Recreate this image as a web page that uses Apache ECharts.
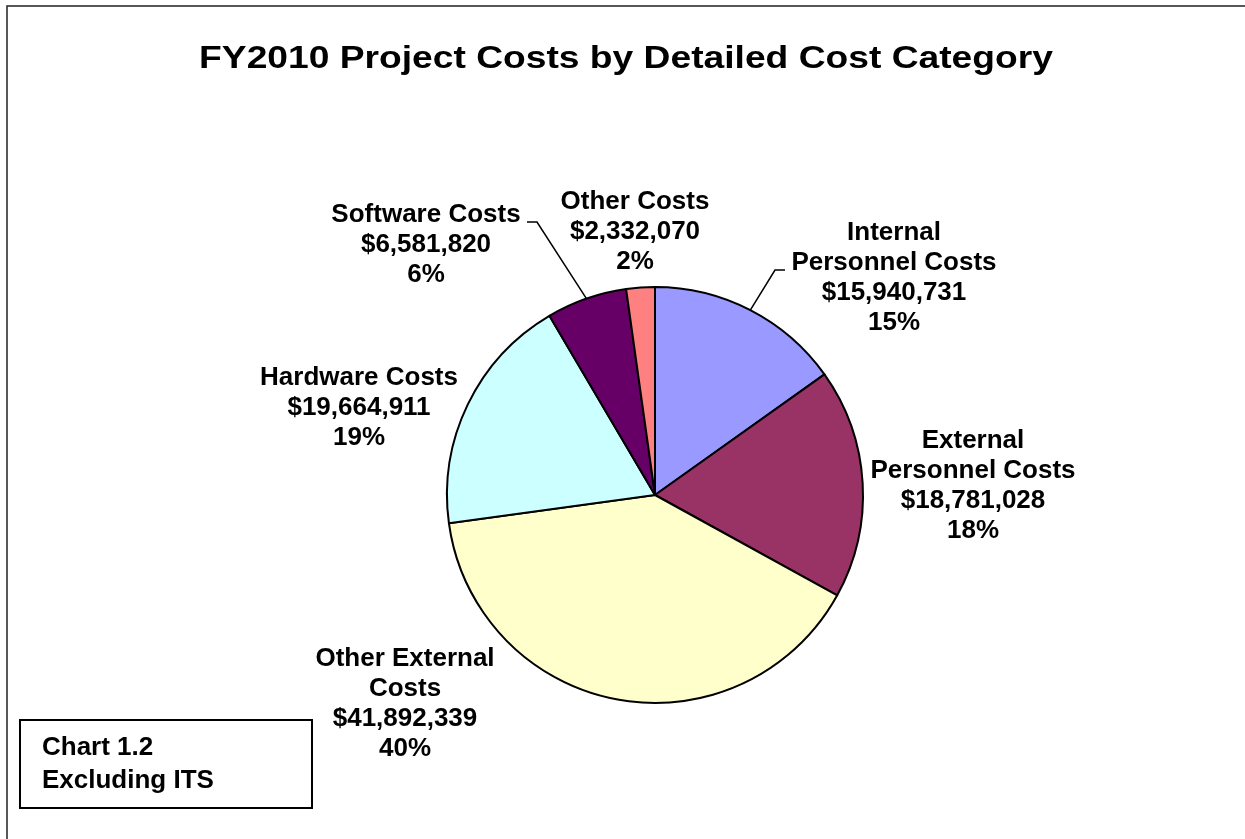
<!DOCTYPE html>
<html>
<head>
<meta charset="utf-8">
<script src="https://cdn.jsdelivr.net/npm/echarts@6/dist/echarts.min.js"></script>
<style>
  html, body { margin: 0; padding: 0; background: #fff; }
  #chart { width: 1245px; height: 839px; }
</style>
</head>
<body>
<div id="chart"></div>
<script>
// slice names (line breaks as in the original labels)
const categories = [
  'Internal\nPersonnel Costs',
  'External\nPersonnel Costs',
  'Other External\nCosts',
  'Hardware Costs',
  'Software Costs',
  'Other Costs'
];
const costs = [15940731, 18781028, 41892339, 19664911, 6581820, 2332070];
const colors = ['#9999FF', '#993366', '#FFFFCC', '#CCFFFF', '#660066', '#FF8080'];

// where each data label block sits (centre of the block)
const labelPos = [
  { x: 894, y: 278 },
  { x: 973, y: 486 },
  { x: 405, y: 704 },
  { x: 359, y: 408 },
  { x: 426, y: 245 },
  { x: 635, y: 232 }
];
// leader lines: elbow and end offsets from the label centre (null = no line)
const leader = [
  { elbow: [-119, -8], end: [-109, -8] },
  null,
  null,
  null,
  { elbow: [111, -23], end: [101, -23] },
  null
];

const chart = echarts.init(document.getElementById('chart'));

const fontFamily = '"Liberation Sans", Arial, sans-serif';

const option = {
  backgroundColor: '#fff',
  animation: false,
  graphic: [
    {
      type: 'rect',
      shape: { x: 7, y: 6, width: 1260, height: 860 },
      style: { fill: null, stroke: '#222', lineWidth: 1.5 },
      silent: true
    },
    {
      // chart title, stretched horizontally like the original
      type: 'text',
      x: 626,
      y: 44,
      scaleX: 1.2,
      style: {
        text: 'FY2010 Project Costs by Detailed Cost Category',
        font: 'bold 31px ' + fontFamily,
        align: 'center',
        verticalAlign: 'top',
        fill: '#000'
      },
      silent: true
    },
    {
      type: 'rect',
      shape: { x: 20, y: 720, width: 292, height: 88 },
      style: { fill: '#fff', stroke: '#000', lineWidth: 2 },
      silent: true
    },
    {
      type: 'text',
      x: 42,
      y: 731,
      style: {
        text: 'Chart 1.2\nExcluding ITS',
        font: 'bold 26px ' + fontFamily,
        lineHeight: 33,
        verticalAlign: 'top',
        fill: '#000'
      },
      silent: true
    }
  ],
  series: [{
    type: 'pie',
    center: [655, 495],
    radius: 208,
    startAngle: 90,
    clockwise: true,
    percentPrecision: 0,
    itemStyle: { borderColor: '#000', borderWidth: 2 },
    label: {
      show: true,
      position: 'outside',
      fontFamily: fontFamily,
      fontSize: 26,
      fontWeight: 'bold',
      lineHeight: 30,
      color: '#000',
      align: 'center',
      formatter: function (p) {
        return p.name + '\n$' + p.value.toLocaleString('en-US') + '\n' + p.percent + '%';
      }
    },
    labelLine: { show: false, lineStyle: { color: '#000', width: 1.5 } },
    labelLayout: function (params) {
      const i = params.dataIndex;
      const pos = labelPos[i];
      const out = { x: pos.x, y: pos.y, align: 'center', verticalAlign: 'middle' };
      const l = leader[i];
      if (l && params.labelLinePoints) {
        out.labelLinePoints = [
          params.labelLinePoints[0],
          [pos.x + l.elbow[0], pos.y + l.elbow[1]],
          [pos.x + l.end[0], pos.y + l.end[1]]
        ];
      }
      return out;
    },
    data: categories.map(function (name, i) {
      return {
        name: name,
        value: costs[i],
        itemStyle: { color: colors[i] },
        labelLine: { show: leader[i] !== null, length: 20, length2: 10 }
      };
    })
  }]
};

chart.setOption(option);
</script>
</body>
</html>
